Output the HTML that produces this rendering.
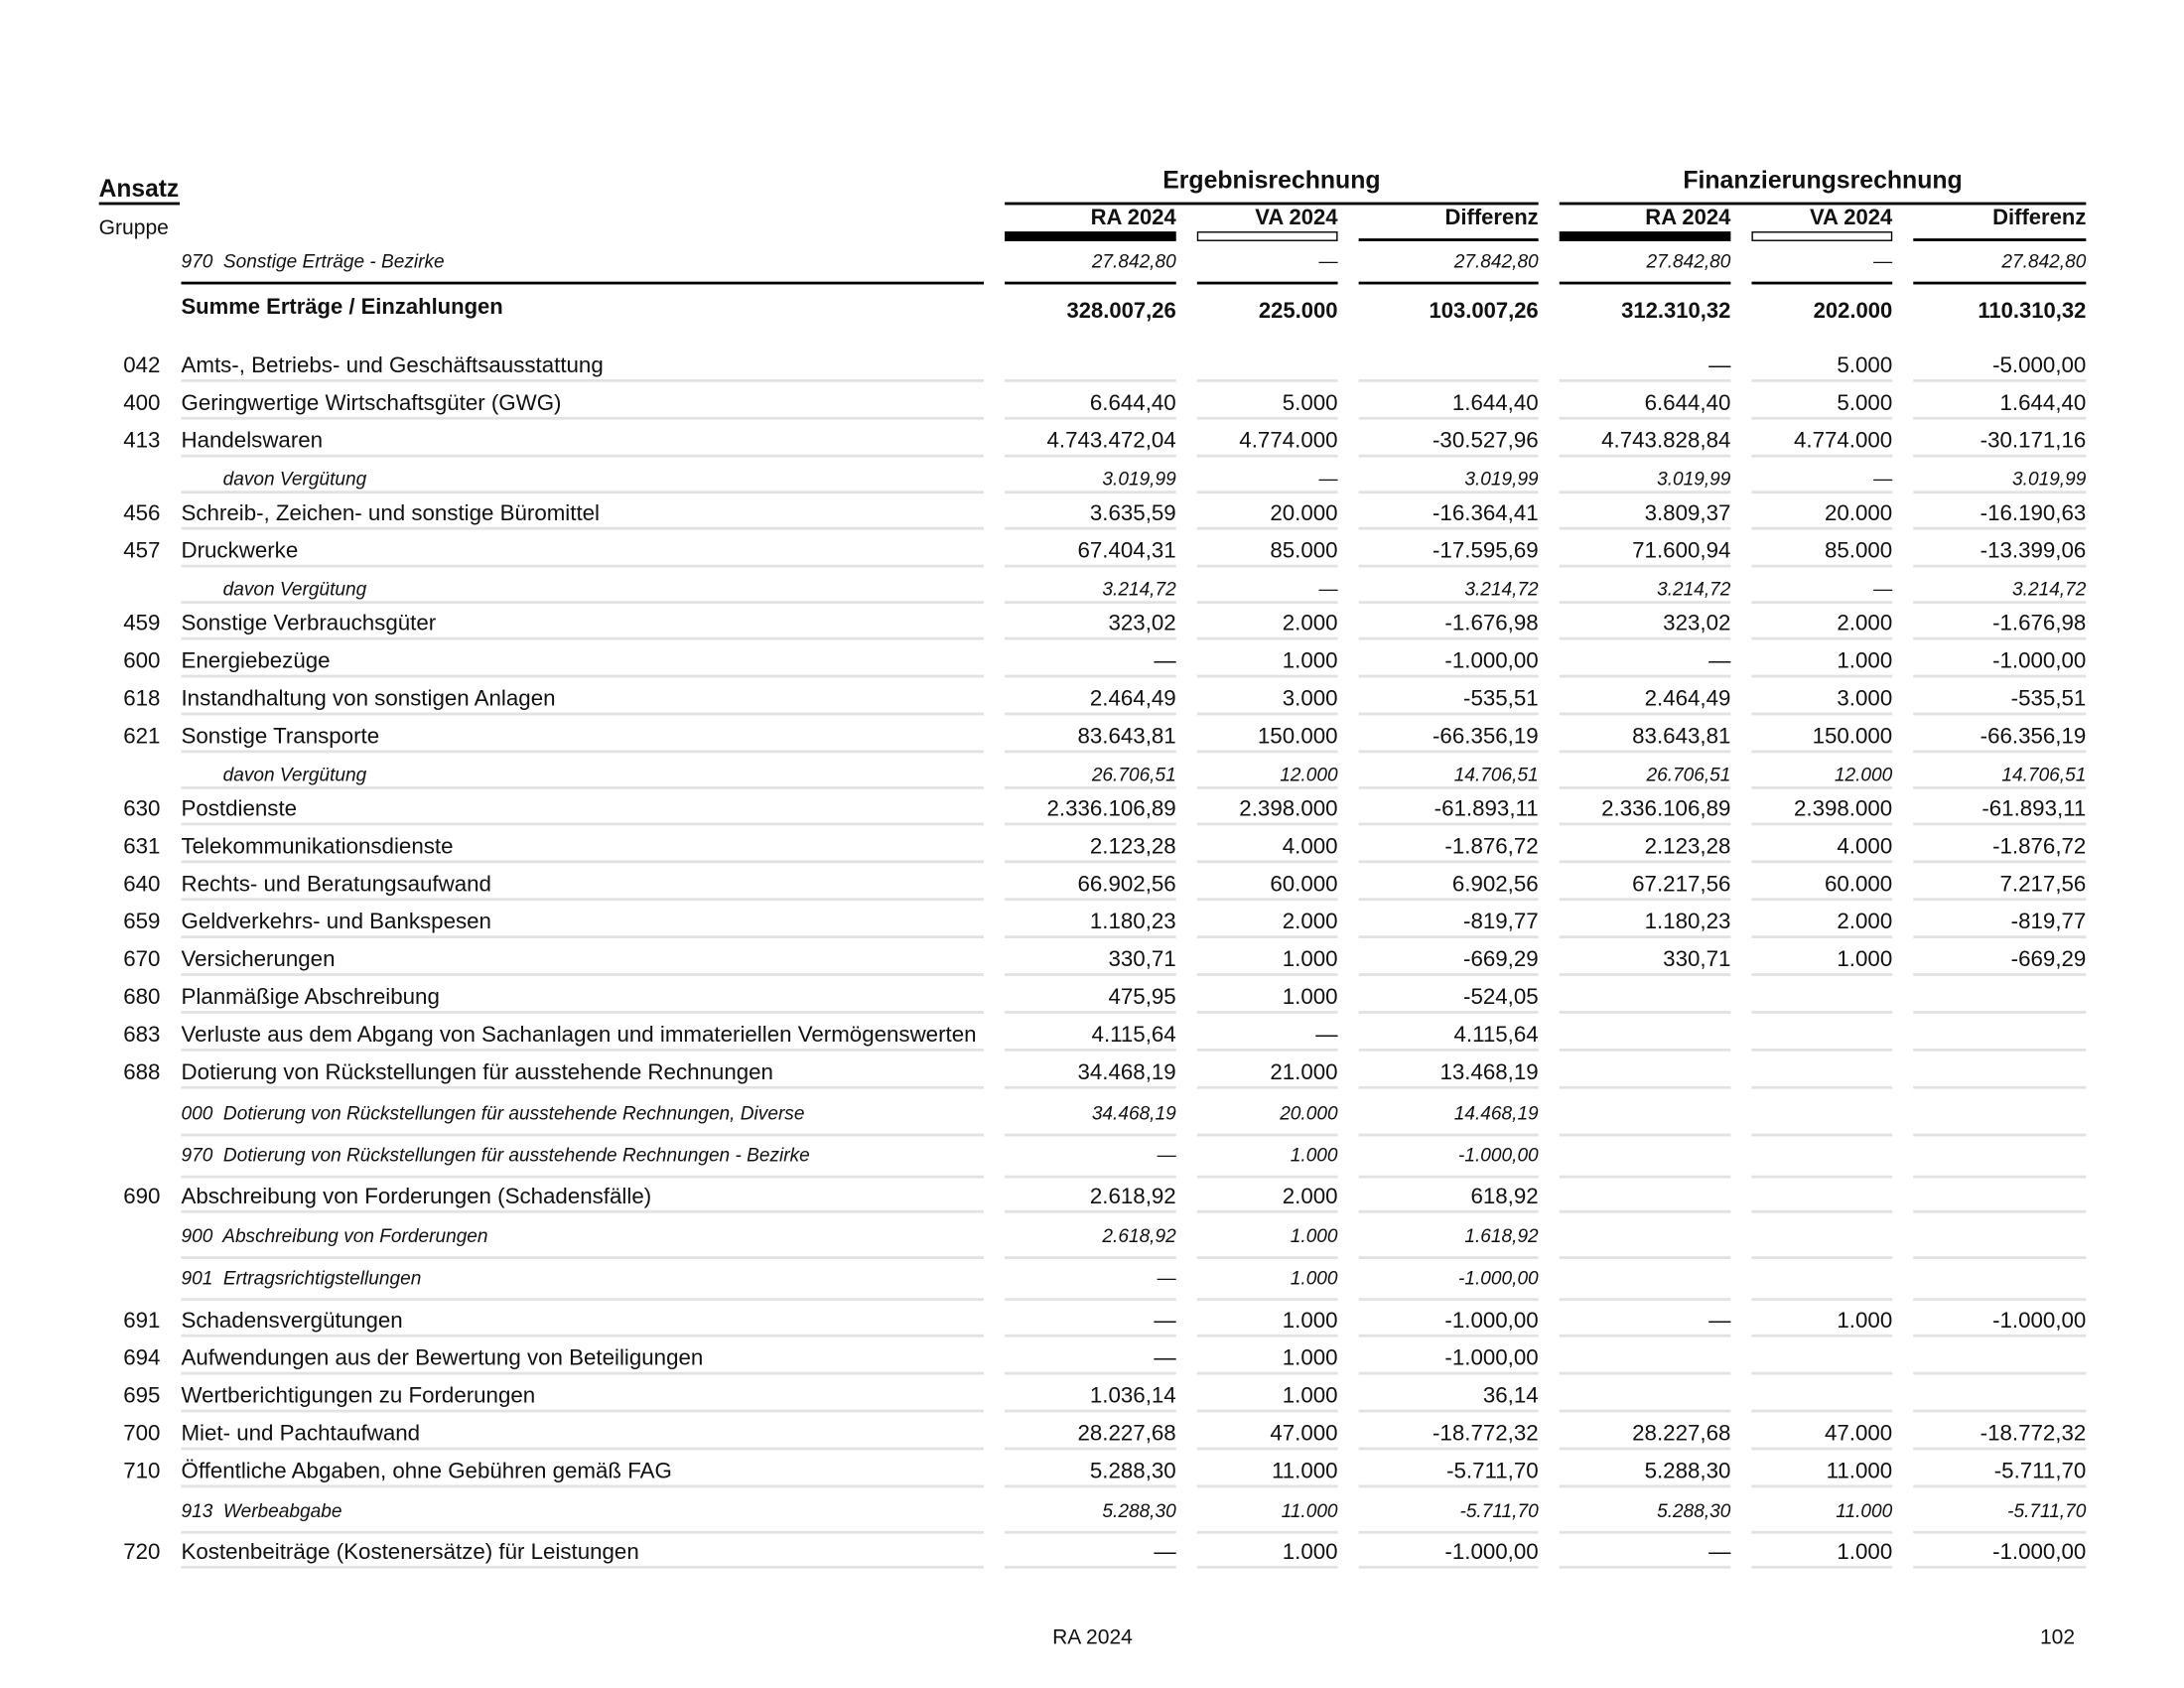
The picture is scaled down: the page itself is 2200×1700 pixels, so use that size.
<!DOCTYPE html>
<html><head><meta charset="utf-8"><style>
html,body{margin:0;padding:0;background:#fff;}
body{width:2200px;height:1700px;overflow:hidden;position:relative;}
#p{position:absolute;left:0;top:0;width:1560px;height:1205px;transform:scale(1.4037,1.4042);transform-origin:0 0;font-family:"Liberation Sans",Arial,sans-serif;color:#111;}
.t{position:absolute;white-space:nowrap;}
.r{position:absolute;left:0;width:1560px;height:20px;font-size:15.9px;margin-top:1.5px;}
.r div{position:absolute;top:0;height:18px;line-height:18px;border-bottom:2px solid #e2e2e2;white-space:nowrap;}
.r div.k{border:none;left:70px;width:45px;text-align:right;}
.r .l{left:130px;width:576px;}
.r .a{left:721px;width:123px;text-align:right;}
.r .b{left:859px;width:101px;text-align:right;}
.r .c{left:975px;width:129px;text-align:right;}
.r .d{left:1119px;width:123px;text-align:right;}
.r .e{left:1257px;width:101px;text-align:right;}
.r .f{left:1373px;width:124px;text-align:right;}
.r.i{font-size:13.6px;font-style:italic;}
.r.i div{height:17px;line-height:17px;}
.r.dv .l{padding-left:30px;width:546px;}
.r.i.tall div{height:23px;}
.bar{position:absolute;background:#000;}
.h{font-size:15.7px;font-weight:bold;top:148px;}
.s{font-size:13.6px;font-style:italic;top:180px;}
.sb{font-size:15.7px;font-weight:bold;top:215px;}
</style></head><body><div id="p">
<div class="t" style="left:71px;top:125px;font-size:17.5px;font-weight:bold;">Ansatz</div>
<div class="bar" style="left:71px;top:145px;width:58px;height:2px;"></div>
<div class="t" style="left:71px;top:155px;font-size:15px;">Gruppe</div>
<div class="t" style="left:721px;width:383px;text-align:center;top:119px;font-size:17.7px;font-weight:bold;">Ergebnisrechnung</div>
<div class="t" style="left:1119px;width:378px;text-align:center;top:119px;font-size:17.7px;font-weight:bold;">Finanzierungsrechnung</div>
<div class="bar" style="left:721px;top:145px;width:383px;height:2px;"></div>
<div class="bar" style="left:1119px;top:145px;width:378px;height:2px;"></div>
<div class="t h" style="left:721px;width:123px;text-align:right;">RA 2024</div>
<div class="t h" style="left:859px;width:101px;text-align:right;">VA 2024</div>
<div class="t h" style="left:975px;width:129px;text-align:right;">Differenz</div>
<div class="t h" style="left:1119px;width:123px;text-align:right;">RA 2024</div>
<div class="t h" style="left:1257px;width:101px;text-align:right;">VA 2024</div>
<div class="t h" style="left:1373px;width:124px;text-align:right;">Differenz</div>
<div class="bar" style="left:721px;top:166px;width:123px;height:7px;"></div>
<div class="bar" style="left:1119px;top:166px;width:123px;height:7px;"></div>
<div class="t" style="left:859px;top:166px;width:99px;height:5px;border:1px solid #000;"></div>
<div class="t" style="left:1257px;top:166px;width:99px;height:5px;border:1px solid #000;"></div>
<div class="bar" style="left:975px;top:171px;width:129px;height:2px;"></div>
<div class="bar" style="left:1373px;top:171px;width:124px;height:2px;"></div>

<div class="t s" style="left:130px;">970&nbsp; Sonstige Erträge - Bezirke</div>
<div class="t s" style="left:721px;width:123px;text-align:right;">27.842,80</div>
<div class="t s" style="left:859px;width:101px;text-align:right;font-style:normal;">—</div>
<div class="t s" style="left:975px;width:129px;text-align:right;">27.842,80</div>
<div class="t s" style="left:1119px;width:123px;text-align:right;">27.842,80</div>
<div class="t s" style="left:1257px;width:101px;text-align:right;font-style:normal;">—</div>
<div class="t s" style="left:1373px;width:124px;text-align:right;">27.842,80</div>
<div class="bar" style="left:130px;top:202px;width:576px;height:2px;"></div>
<div class="bar" style="left:721px;top:202px;width:123px;height:2px;"></div>
<div class="bar" style="left:859px;top:202px;width:101px;height:2px;"></div>
<div class="bar" style="left:975px;top:202px;width:129px;height:2px;"></div>
<div class="bar" style="left:1119px;top:202px;width:123px;height:2px;"></div>
<div class="bar" style="left:1257px;top:202px;width:101px;height:2px;"></div>
<div class="bar" style="left:1373px;top:202px;width:124px;height:2px;"></div>
<div class="t sb" style="left:130px;top:212px;">Summe Erträge / Einzahlungen</div>
<div class="t sb" style="left:721px;width:123px;text-align:right;">328.007,26</div>
<div class="t sb" style="left:859px;width:101px;text-align:right;">225.000</div>
<div class="t sb" style="left:975px;width:129px;text-align:right;">103.007,26</div>
<div class="t sb" style="left:1119px;width:123px;text-align:right;">312.310,32</div>
<div class="t sb" style="left:1257px;width:101px;text-align:right;">202.000</div>
<div class="t sb" style="left:1373px;width:124px;text-align:right;">110.310,32</div>

<div class="r" style="top:252px"><div class="k">042</div><div class="l">Amts-, Betriebs- und Geschäftsausstattung</div><div class="a"></div><div class="b"></div><div class="c"></div><div class="d">—</div><div class="e">5.000</div><div class="f">-5.000,00</div></div>
<div class="r" style="top:279px"><div class="k">400</div><div class="l">Geringwertige Wirtschaftsgüter (GWG)</div><div class="a">6.644,40</div><div class="b">5.000</div><div class="c">1.644,40</div><div class="d">6.644,40</div><div class="e">5.000</div><div class="f">1.644,40</div></div>
<div class="r" style="top:306px"><div class="k">413</div><div class="l">Handelswaren</div><div class="a">4.743.472,04</div><div class="b">4.774.000</div><div class="c">-30.527,96</div><div class="d">4.743.828,84</div><div class="e">4.774.000</div><div class="f">-30.171,16</div></div>
<div class="r i dv" style="top:333px"><div class="l">davon Vergütung</div><div class="a">3.019,99</div><div class="b" style="font-style:normal">—</div><div class="c">3.019,99</div><div class="d">3.019,99</div><div class="e" style="font-style:normal">—</div><div class="f">3.019,99</div></div>
<div class="r" style="top:358px"><div class="k">456</div><div class="l">Schreib-, Zeichen- und sonstige Büromittel</div><div class="a">3.635,59</div><div class="b">20.000</div><div class="c">-16.364,41</div><div class="d">3.809,37</div><div class="e">20.000</div><div class="f">-16.190,63</div></div>
<div class="r" style="top:385px"><div class="k">457</div><div class="l">Druckwerke</div><div class="a">67.404,31</div><div class="b">85.000</div><div class="c">-17.595,69</div><div class="d">71.600,94</div><div class="e">85.000</div><div class="f">-13.399,06</div></div>
<div class="r i dv" style="top:412px"><div class="l">davon Vergütung</div><div class="a">3.214,72</div><div class="b" style="font-style:normal">—</div><div class="c">3.214,72</div><div class="d">3.214,72</div><div class="e" style="font-style:normal">—</div><div class="f">3.214,72</div></div>
<div class="r" style="top:437px"><div class="k">459</div><div class="l">Sonstige Verbrauchsgüter</div><div class="a">323,02</div><div class="b">2.000</div><div class="c">-1.676,98</div><div class="d">323,02</div><div class="e">2.000</div><div class="f">-1.676,98</div></div>
<div class="r" style="top:464px"><div class="k">600</div><div class="l">Energiebezüge</div><div class="a">—</div><div class="b">1.000</div><div class="c">-1.000,00</div><div class="d">—</div><div class="e">1.000</div><div class="f">-1.000,00</div></div>
<div class="r" style="top:491px"><div class="k">618</div><div class="l">Instandhaltung von sonstigen Anlagen</div><div class="a">2.464,49</div><div class="b">3.000</div><div class="c">-535,51</div><div class="d">2.464,49</div><div class="e">3.000</div><div class="f">-535,51</div></div>
<div class="r" style="top:518px"><div class="k">621</div><div class="l">Sonstige Transporte</div><div class="a">83.643,81</div><div class="b">150.000</div><div class="c">-66.356,19</div><div class="d">83.643,81</div><div class="e">150.000</div><div class="f">-66.356,19</div></div>
<div class="r i dv" style="top:545px"><div class="l">davon Vergütung</div><div class="a">26.706,51</div><div class="b">12.000</div><div class="c">14.706,51</div><div class="d">26.706,51</div><div class="e">12.000</div><div class="f">14.706,51</div></div>
<div class="r" style="top:570px"><div class="k">630</div><div class="l">Postdienste</div><div class="a">2.336.106,89</div><div class="b">2.398.000</div><div class="c">-61.893,11</div><div class="d">2.336.106,89</div><div class="e">2.398.000</div><div class="f">-61.893,11</div></div>
<div class="r" style="top:597px"><div class="k">631</div><div class="l">Telekommunikationsdienste</div><div class="a">2.123,28</div><div class="b">4.000</div><div class="c">-1.876,72</div><div class="d">2.123,28</div><div class="e">4.000</div><div class="f">-1.876,72</div></div>
<div class="r" style="top:624px"><div class="k">640</div><div class="l">Rechts- und Beratungsaufwand</div><div class="a">66.902,56</div><div class="b">60.000</div><div class="c">6.902,56</div><div class="d">67.217,56</div><div class="e">60.000</div><div class="f">7.217,56</div></div>
<div class="r" style="top:651px"><div class="k">659</div><div class="l">Geldverkehrs- und Bankspesen</div><div class="a">1.180,23</div><div class="b">2.000</div><div class="c">-819,77</div><div class="d">1.180,23</div><div class="e">2.000</div><div class="f">-819,77</div></div>
<div class="r" style="top:678px"><div class="k">670</div><div class="l">Versicherungen</div><div class="a">330,71</div><div class="b">1.000</div><div class="c">-669,29</div><div class="d">330,71</div><div class="e">1.000</div><div class="f">-669,29</div></div>
<div class="r" style="top:705px"><div class="k">680</div><div class="l">Planmäßige Abschreibung</div><div class="a">475,95</div><div class="b">1.000</div><div class="c">-524,05</div><div class="d"></div><div class="e"></div><div class="f"></div></div>
<div class="r" style="top:732px"><div class="k">683</div><div class="l">Verluste aus dem Abgang von Sachanlagen und immateriellen Vermögenswerten</div><div class="a">4.115,64</div><div class="b">—</div><div class="c">4.115,64</div><div class="d"></div><div class="e"></div><div class="f"></div></div>
<div class="r" style="top:759px"><div class="k">688</div><div class="l">Dotierung von Rückstellungen für ausstehende Rechnungen</div><div class="a">34.468,19</div><div class="b">21.000</div><div class="c">13.468,19</div><div class="d"></div><div class="e"></div><div class="f"></div></div>
<div class="r i tall" style="top:788px"><div class="l">000&nbsp; Dotierung von Rückstellungen für ausstehende Rechnungen, Diverse</div><div class="a">34.468,19</div><div class="b">20.000</div><div class="c">14.468,19</div><div class="d"></div><div class="e"></div><div class="f"></div></div>
<div class="r i tall" style="top:818px"><div class="l">970&nbsp; Dotierung von Rückstellungen für ausstehende Rechnungen - Bezirke</div><div class="a" style="font-style:normal">—</div><div class="b">1.000</div><div class="c">-1.000,00</div><div class="d"></div><div class="e"></div><div class="f"></div></div>
<div class="r" style="top:848px"><div class="k">690</div><div class="l">Abschreibung von Forderungen (Schadensfälle)</div><div class="a">2.618,92</div><div class="b">2.000</div><div class="c">618,92</div><div class="d"></div><div class="e"></div><div class="f"></div></div>
<div class="r i tall" style="top:876px"><div class="l">900&nbsp; Abschreibung von Forderungen</div><div class="a">2.618,92</div><div class="b">1.000</div><div class="c">1.618,92</div><div class="d"></div><div class="e"></div><div class="f"></div></div>
<div class="r i tall" style="top:906px"><div class="l">901&nbsp; Ertragsrichtigstellungen</div><div class="a" style="font-style:normal">—</div><div class="b">1.000</div><div class="c">-1.000,00</div><div class="d"></div><div class="e"></div><div class="f"></div></div>
<div class="r" style="top:937px"><div class="k">691</div><div class="l">Schadensvergütungen</div><div class="a">—</div><div class="b">1.000</div><div class="c">-1.000,00</div><div class="d">—</div><div class="e">1.000</div><div class="f">-1.000,00</div></div>
<div class="r" style="top:964px"><div class="k">694</div><div class="l">Aufwendungen aus der Bewertung von Beteiligungen</div><div class="a">—</div><div class="b">1.000</div><div class="c">-1.000,00</div><div class="d"></div><div class="e"></div><div class="f"></div></div>
<div class="r" style="top:991px"><div class="k">695</div><div class="l">Wertberichtigungen zu Forderungen</div><div class="a">1.036,14</div><div class="b">1.000</div><div class="c">36,14</div><div class="d"></div><div class="e"></div><div class="f"></div></div>
<div class="r" style="top:1018px"><div class="k">700</div><div class="l">Miet- und Pachtaufwand</div><div class="a">28.227,68</div><div class="b">47.000</div><div class="c">-18.772,32</div><div class="d">28.227,68</div><div class="e">47.000</div><div class="f">-18.772,32</div></div>
<div class="r" style="top:1045px"><div class="k">710</div><div class="l">Öffentliche Abgaben, ohne Gebühren gemäß FAG</div><div class="a">5.288,30</div><div class="b">11.000</div><div class="c">-5.711,70</div><div class="d">5.288,30</div><div class="e">11.000</div><div class="f">-5.711,70</div></div>
<div class="r i tall" style="top:1073px"><div class="l">913&nbsp; Werbeabgabe</div><div class="a">5.288,30</div><div class="b">11.000</div><div class="c">-5.711,70</div><div class="d">5.288,30</div><div class="e">11.000</div><div class="f">-5.711,70</div></div>
<div class="r" style="top:1103px"><div class="k">720</div><div class="l">Kostenbeiträge (Kostenersätze) für Leistungen</div><div class="a">—</div><div class="b">1.000</div><div class="c">-1.000,00</div><div class="d">—</div><div class="e">1.000</div><div class="f">-1.000,00</div></div>

<div class="t" style="left:734px;width:100px;text-align:center;top:1166px;font-size:15px;">RA 2024</div>
<div class="t" style="left:1400px;width:89px;text-align:right;top:1166px;font-size:15px;">102</div>
</div></body></html>
